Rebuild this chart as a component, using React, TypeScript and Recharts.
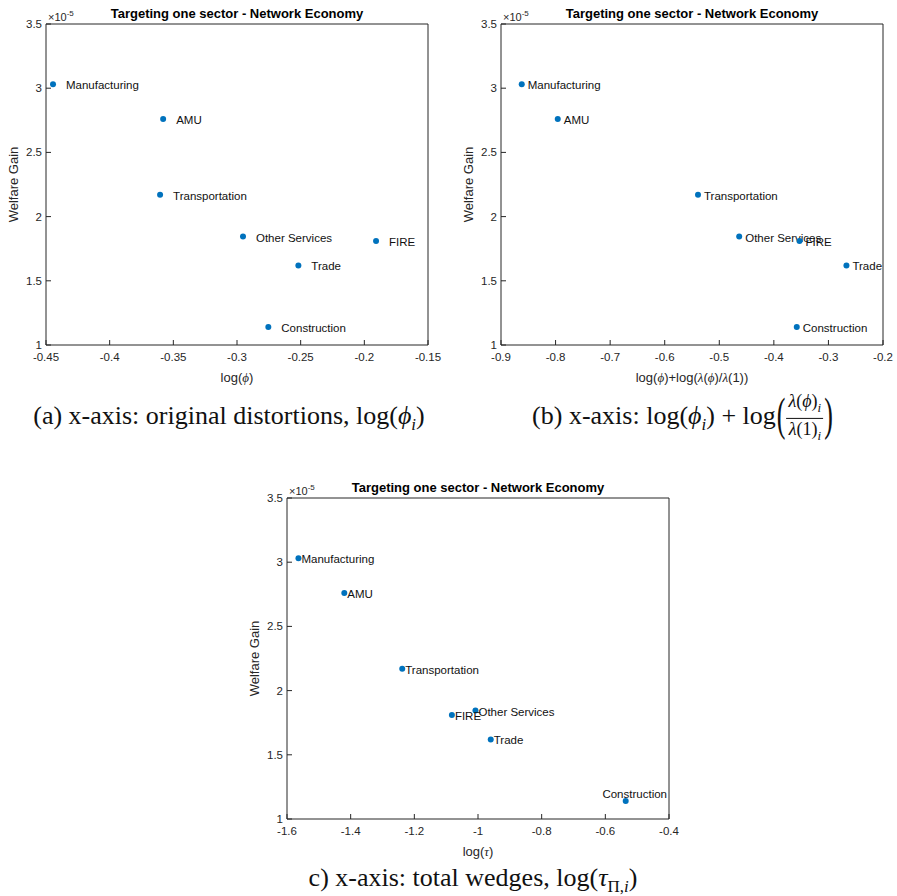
import React from 'react';
import { ScatterChart, Scatter, XAxis, YAxis, Label } from 'recharts';

const sectors = ['Manufacturing', 'AMU', 'Transportation', 'Other Services', 'FIRE', 'Trade', 'Construction'];
// welfare gain, in units of 1e-5
const welfareGain = [3.03, 2.76, 2.17, 1.845, 1.81, 1.62, 1.14];
const logPhi = [-0.4445, -0.358, -0.3604, -0.2953, -0.1908, -0.2518, -0.2754];
const logPhiLambda = [-0.862, -0.796, -0.539, -0.4635, -0.353, -0.267, -0.358];
const logTau = [-1.564, -1.42, -1.238, -1.008, -1.082, -0.96, -0.536];

const yTicks = [1, 1.5, 2, 2.5, 3, 3.5];
const xTicksA = [-0.45, -0.4, -0.35, -0.3, -0.25, -0.2, -0.15];
const xTicksB = [-0.9, -0.8, -0.7, -0.6, -0.5, -0.4, -0.3, -0.2];
const xTicksC = [-1.6, -1.4, -1.2, -1, -0.8, -0.6, -0.4];

const BLUE = '#0072BD';
const AXIS = '#262626';
const SANS = '"Liberation Sans", Arial, Helvetica, sans-serif';
const SERIF = '"Liberation Serif", "Times New Roman", serif';

const NoTick = () => <g />;
const lineStyle = { stroke: AXIS, strokeWidth: 1 };

interface PanelProps {
  left: number;
  top: number;
  xs: number[];
  xTicks: number[];
  xLabel: React.ReactNode;
  labelGap: number;
  above?: string[];
}

function Panel({ left, top, xs, xTicks, xLabel, labelGap, above = [] }: PanelProps) {
  const data = sectors.map((name, i) => ({ name, x: xs[i], y: welfareGain[i] }));
  const domain: [number, number] = [xTicks[0], xTicks[xTicks.length - 1]];

  const dot = (p: any) => {
    const up = above.includes(p.payload.name);
    return (
      <g>
        <circle cx={p.cx} cy={p.cy} r={3} fill={BLUE} />
        <text
          x={up ? p.cx + 9 : p.cx + labelGap}
          y={up ? p.cy - 7 : p.cy + 1}
          textAnchor={up ? 'middle' : 'start'}
          dominantBaseline="central"
          fontSize={11.5}
          fill="#111"
        >
          {p.payload.name}
        </text>
      </g>
    );
  };

  const tickStyle = { fill: AXIS, fontSize: 11.5 };

  return (
    <div style={{ position: 'absolute', left, top, width: 450, height: 400, fontFamily: SANS }}>
      <ScatterChart width={450} height={400} margin={{ top: 23, right: 21, left: 0, bottom: 0 }}>
        <XAxis
          xAxisId="b"
          type="number"
          dataKey="x"
          domain={domain}
          ticks={xTicks}
          height={55}
          stroke={AXIS}
          axisLine={lineStyle}
          tickLine={lineStyle}
          tickSize={-5}
          tickMargin={13}
          tick={tickStyle}
          interval={0}
        >
          <Label
            content={(lp: any) => {
              const vb = lp.viewBox;
              return (
                <text x={vb.x + vb.width / 2} y={vb.y + 32} textAnchor="middle" dominantBaseline="central" fontSize={13} fill={AXIS}>
                  {xLabel}
                </text>
              );
            }}
          />
        </XAxis>
        <XAxis
          xAxisId="t"
          orientation="top"
          type="number"
          domain={domain}
          ticks={xTicks}
          height={1}
          stroke={AXIS}
          axisLine={lineStyle}
          tickLine={lineStyle}
          tickSize={-5}
          tick={NoTick}
          interval={0}
        />
        <YAxis
          yAxisId="l"
          type="number"
          dataKey="y"
          domain={[1, 3.5]}
          ticks={yTicks}
          width={46}
          stroke={AXIS}
          axisLine={lineStyle}
          tickLine={lineStyle}
          tickSize={-5}
          tickMargin={9}
          tick={tickStyle}
          interval={0}
        >
          <Label
            content={(lp: any) => {
              const vb = lp.viewBox;
              const cx = vb.x + 13;
              const cy = vb.y + vb.height / 2;
              return (
                <text x={cx} y={cy} transform={`rotate(-90 ${cx} ${cy})`} textAnchor="middle" dominantBaseline="central" fontSize={13} fill={AXIS}>
                  Welfare Gain
                </text>
              );
            }}
          />
        </YAxis>
        <YAxis
          yAxisId="r"
          orientation="right"
          type="number"
          domain={[1, 3.5]}
          ticks={yTicks}
          width={1}
          stroke={AXIS}
          axisLine={lineStyle}
          tickLine={lineStyle}
          tickSize={-5}
          tick={NoTick}
          interval={0}
        />
        <Scatter xAxisId="b" yAxisId="l" data={data} shape={dot} isAnimationActive={false} />
      </ScatterChart>
      <div style={{ position: 'absolute', left: 46, width: 382, top: 6, textAlign: 'center', fontSize: 13, fontWeight: 'bold', lineHeight: '16px', color: '#000' }}>
        Targeting one sector - Network Economy
      </div>
      <div style={{ position: 'absolute', left: 48, top: 11, fontSize: 11, lineHeight: '12px', color: AXIS, whiteSpace: 'nowrap' }}>
        ×10<span style={{ fontSize: 8, position: 'relative', top: -5 }}>-5</span>
      </div>
    </div>
  );
}

const it = (s: string) => <tspan fontStyle="italic" fontFamily={SERIF}>{s}</tspan>;

const capStyle = (cx: number, cy: number): React.CSSProperties => ({
  position: 'absolute',
  left: cx,
  top: cy,
  transform: 'translate(-50%, -50%)',
  fontFamily: SERIF,
  fontSize: 26,
  whiteSpace: 'nowrap',
  color: '#111',
});

export default function App() {
  return (
    <div style={{ position: 'absolute', left: 0, top: 0, width: 897, height: 896, background: '#fff', overflow: 'hidden' }}>
      <Panel left={0} top={0} xs={logPhi} xTicks={xTicksA} labelGap={13} xLabel={<>log({it('ϕ')})</>} />
      <Panel
        left={455}
        top={0}
        xs={logPhiLambda}
        xTicks={xTicksB}
        labelGap={6}
        xLabel={<>log({it('ϕ')})+log({it('λ')}({it('ϕ')})/{it('λ')}(1))</>}
      />
      <Panel left={241} top={474} xs={logTau} xTicks={xTicksC} labelGap={3} above={['Construction']} xLabel={<>log({it('τ')})</>} />

      <div style={capStyle(229, 418)}>
        (a) x-axis: original distortions, log(<i>ϕ</i><sub style={{ fontSize: 17 }}><i>i</i></sub>)
      </div>
      <div style={capStyle(683, 418)}>
        (b) x-axis: log(<i>ϕ</i><sub style={{ fontSize: 17 }}><i>i</i></sub>) + log
        <span style={{ display: 'inline-block', transform: 'scale(1, 1.8)', margin: '0 1px' }}>(</span>
        <span style={{ display: 'inline-flex', flexDirection: 'column', alignItems: 'center', verticalAlign: 'middle', fontSize: 18, lineHeight: '20px' }}>
          <span style={{ borderBottom: '1px solid #111', padding: '0 2px' }}>
            <i>λ</i>(<i>ϕ</i>)<sub style={{ fontSize: 13 }}><i>i</i></sub>
          </span>
          <span>
            <i>λ</i>(1)<sub style={{ fontSize: 13 }}><i>i</i></sub>
          </span>
        </span>
        <span style={{ display: 'inline-block', transform: 'scale(1, 1.8)', margin: '0 1px' }}>)</span>
      </div>
      <div style={capStyle(473, 880)}>
        c) x-axis: total wedges, log(<i>τ</i><sub style={{ fontSize: 17 }}>Π,<i>i</i></sub>)
      </div>
    </div>
  );
}
